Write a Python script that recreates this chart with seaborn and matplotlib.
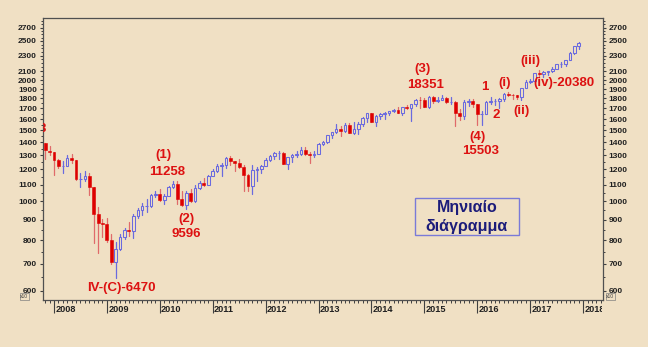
import numpy as np
import pandas as pd
import matplotlib
matplotlib.use("Agg")
import matplotlib.pyplot as plt
import seaborn as sns
from matplotlib.patches import Rectangle
from matplotlib.transforms import Bbox, TransformedBbox
from matplotlib.ticker import FixedLocator, NullFormatter, FixedFormatter

# ---------------- data (monthly OHLC, index points; axis shows x10) ----------------
start_year = 2007
start_month = 11
opens = [13930, 13368,
         13262, 12638, 12262, 12264, 12818, 12638, 11346, 11378, 11544, 10847, 9325, 8830,
         8772, 8000, 7057, 7609, 8168, 8500, 8447, 9172, 9496, 9712, 9713, 10344,
         10430, 10067, 10325, 10857, 11009, 10137, 9774, 10466, 10015, 10788, 11118, 11006,
         11578, 11892, 12226, 12320, 12811, 12570, 12414, 12143, 11614, 10913, 11955, 12046,
         12218, 12633, 12952, 13212, 13214, 12393, 12880, 13009, 13091, 13437, 13096, 13026,
         13104, 13861, 14054, 14579, 14840, 15116, 14910, 15500, 14810, 15130, 15546, 16086,
         16577, 15699, 16322, 16458, 16581, 16717, 16827, 16563, 17098, 17043, 17391, 17828,
         17823, 17165, 18133, 17776, 17841, 18011, 17620, 17690, 16528, 16285, 17664, 17720,
         17425, 16466, 16517, 17685, 17774, 17787, 17930, 18432, 18401, 18308, 18142, 19124,
         19763, 19864, 20812, 20663, 20941, 21009, 21350, 21891, 21948, 22405, 23377, 24272]
highs = [13943, 13727,
         13279, 12767, 12622, 13010, 13136, 12657, 11734, 11868, 11790, 10883, 9654, 9026,
         9088, 8315, 7925, 8300, 8588, 8878, 9282, 9630, 9917, 10120, 10450, 10580,
         10730, 10400, 10930, 11258, 11200, 10600, 10580, 10720, 10948, 11245, 11451, 11625,
         12020, 12391, 12420, 12876, 12950, 12570, 12753, 12300, 11717, 12285, 12188, 12330,
         12840, 13055, 13289, 13338, 13280, 12900, 13100, 13330, 13653, 13661, 13290, 13300,
         13970, 14150, 14585, 14888, 15542, 15340, 15634, 15658, 15709, 15721, 16174, 16588,
         16588, 16398, 16590, 16632, 16735, 16978, 17151, 17153, 17350, 17395, 17895, 18103,
         18000, 18244, 18288, 18175, 18351, 18200, 18137, 17750, 16933, 17800, 17978, 17900,
         17425, 16795, 17790, 18168, 17934, 18016, 18622, 18668, 18495, 18400, 19152, 19988,
         20125, 20851, 21169, 21006, 21112, 21535, 21929, 22179, 22420, 23485, 24327, 24876]
lows = [12724, 13029,
        11634, 12069, 11731, 12266, 12442, 11288, 10827, 11221, 10365, 7882, 7449, 8149,
        7909, 7000, 6470, 7550, 8050, 8222, 8087, 9082, 9253, 9430, 9677, 10235,
        10030, 9835, 10300, 10780, 9870, 9757, 9596, 9936, 9940, 10710, 10930, 11000,
        11550, 11850, 11555, 12090, 12310, 11862, 12090, 10605, 10597, 10404, 11231, 11735,
        12218, 12600, 12740, 12710, 12400, 12035, 12492, 12880, 13000, 13050, 12471, 12880,
        13104, 13785, 13937, 14400, 14740, 14551, 14850, 14760, 14720, 14720, 15350, 15700,
        15698, 15340, 16016, 16015, 16334, 16656, 16563, 16333, 16945, 15855, 17263, 17068,
        17137, 17037, 17585, 17664, 17840, 17576, 17465, 15370, 15942, 16013, 17210, 17138,
        15450, 15503, 16500, 17484, 17331, 17063, 17713, 18247, 17992, 17959, 17884, 19062,
        19678, 19831, 20412, 20380, 20554, 20992, 21279, 21600, 21709, 22400, 23242, 23921]
closes = [13372, 13265,
          12650, 12266, 12263, 12820, 12638, 11350, 11378, 11544, 10851, 9325, 8829, 8776,
          8001, 7063, 7609, 8168, 8500, 8447, 9172, 9496, 9712, 9713, 10344, 10428,
          10067, 10325, 10857, 11009, 10137, 9774, 10466, 10015, 10788, 11118, 11006, 11578,
          11892, 12226, 12320, 12811, 12570, 12414, 12143, 11614, 10913, 11955, 12046, 12218,
          12633, 12952, 13212, 13214, 12393, 12880, 13009, 13091, 13437, 13096, 13026, 13104,
          13861, 14054, 14579, 14840, 15116, 14910, 15500, 14810, 15130, 15546, 16086, 16577,
          15699, 16322, 16458, 16581, 16717, 16827, 16563, 17098, 17043, 17391, 17828, 17823,
          17165, 18133, 17776, 17841, 18011, 17620, 17690, 16528, 16285, 17664, 17720, 17425,
          16466, 16517, 17685, 17774, 17787, 17930, 18432, 18401, 18308, 18142, 19124, 19763,
          19864, 20812, 20663, 20941, 21009, 21350, 21891, 21948, 22405, 23377, 24272, 24719]
SCALE = 10

y_major = [600, 700, 800, 900, 1000, 1100, 1200, 1300, 1400, 1500, 1600, 1700,
           1800, 1900, 2000, 2100, 2300, 2500, 2700]
years = list(range(2008, 2019))

BG = "#F0E0C4"
RED = "#DD0000"
RED_WICK = "#E06A6A"
BLUE = "#6A6ADF"
LABEL_RED = "#DD1111"
NAVY = "#1C1C7A"

sns.set_theme(style="ticks")
plt.rcParams["font.family"] = ["Liberation Sans", "DejaVu Sans"]

n = len(opens)
xs = np.array([start_year + (start_month - 1 + i) / 12.0 for i in range(n)])
o = np.array(opens) / SCALE
h = np.array(highs) / SCALE
l = np.array(lows) / SCALE
c = np.array(closes) / SCALE
up = c >= o

fig = plt.figure(figsize=(6.48, 3.47), dpi=100, facecolor=BG)
ax = fig.add_axes([42.5 / 648, (347 - 299.5) / 347, (602.7 - 42.5) / 648, (299.5 - 18.3) / 347])
ax.set_facecolor(BG)
ax.set_yscale("log")

# wicks through seaborn
wick = pd.DataFrame({
    "x": np.concatenate([xs, xs]),
    "y": np.concatenate([h, l]),
    "unit": np.concatenate([np.arange(n), np.arange(n)]),
    "dir": np.concatenate([np.where(up, "up", "down")] * 2),
})
sns.lineplot(data=wick, x="x", y="y", units="unit", hue="dir", estimator=None,
             palette={"up": BLUE, "down": RED_WICK}, legend=False, lw=0.9, sort=False,
             ax=ax, zorder=2)

# bodies
ax.bar(xs[up], np.maximum(c[up] - o[up], 0.01), bottom=o[up], width=0.048,
       facecolor=BG, edgecolor=BLUE, linewidth=0.75, zorder=3)
ax.bar(xs[~up], o[~up] - c[~up], bottom=c[~up], width=0.055,
       facecolor=RED, edgecolor=RED, linewidth=0.4, zorder=3)

ax.set_xlim(2007.783, 2018.369)
ax.set_ylim(570.6, 2846)
ax.set_xlabel("")
ax.set_ylabel("")

# y ticks
ax.yaxis.set_major_locator(FixedLocator(y_major))
ax.yaxis.set_major_formatter(FixedFormatter([str(v) for v in y_major]))
ax.yaxis.set_minor_locator(FixedLocator([v for v in range(550, 2851, 50) if v not in y_major]))
ax.yaxis.set_minor_formatter(NullFormatter())
ax.tick_params(axis="y", which="both", direction="out", left=True, right=True,
               labelleft=True, labelright=True, colors="#404040", labelcolor="#202020",
               labelsize=6, pad=1.5)
ax.tick_params(axis="y", which="major", length=2.5, width=0.8)
ax.tick_params(axis="y", which="minor", length=1.5, width=0.7)
for t in ax.get_yticklabels():
    t.set_fontweight("bold")

# x ticks
ax.xaxis.set_major_locator(FixedLocator(years))
ax.xaxis.set_major_formatter(NullFormatter())
ax.xaxis.set_minor_locator(FixedLocator([2007 + m / 12 for m in range(0, 12 * 12) if m % 12 != 0]))
ax.tick_params(axis="x", which="major", direction="out", length=9.5, width=0.8, colors="#404040")
ax.tick_params(axis="x", which="minor", direction="out", length=2.2, width=0.7, colors="#404040")
clip_box = TransformedBbox(Bbox([[0, 0], [601.5 / 648, 1]]), fig.transFigure)
for yr in years:
    t = ax.text(yr + 1.3 / 52.9, -0.0373, str(yr), transform=ax.get_xaxis_transform(),
                ha="left", va="center", fontsize=6.6, fontweight="bold", color="#202020")
    t.set_clip_box(clip_box)
    t.set_clip_on(True)

for s in ax.spines.values():
    s.set_color("#505050")
    s.set_linewidth(0.9)

# wave labels
lab = dict(ha="center", va="center", fontsize=9.5, fontweight="bold", color=LABEL_RED)
cut = ax.text(2007.711, 1511, "8", ha="left", va="center", fontsize=9.5,
              fontweight="bold", color=LABEL_RED)
cut.set_clip_path(ax.patch)
cut.set_clip_on(True)
ax.text(2010.066, 1303, "(1)", **lab)
ax.text(2010.130, 1184, "11258", **lab)
ax.text(2010.509, 904, "(2)", **lab)
ax.text(2010.490, 828, "9596", **lab)
ax.text(2009.267, 608, "IV-(C)-6470", **lab)
ax.text(2014.962, 2126, "(3)", **lab)
ax.text(2015.027, 1944, "18351", **lab)
ax.text(2016.147, 1918, "1", **lab)
ax.text(2016.507, 1969, "(i)", **lab)
ax.text(2016.355, 1638, "2", **lab)
ax.text(2016.828, 1680, "(ii)", **lab)
ax.text(2016.009, 1447, "(4)", **lab)
ax.text(2016.066, 1335, "15503", **lab)
ax.text(2017.007, 2233, "(iii)", **lab)
ax.text(2017.635, 1963, "(iv)-20380", **lab)

# title box
fig.patches.append(Rectangle((415 / 648, (347 - 235.3) / 347), 104 / 648, 37.6 / 347,
                             transform=fig.transFigure, facecolor=BG, edgecolor="#7A7AD8",
                             linewidth=1.0, zorder=5))
fig.text(467 / 648, (347 - 207.3) / 347, "Μηνιαίο", ha="center", va="center",
         fontsize=11.5, fontweight="bold", color=NAVY, zorder=6)
fig.text(467 / 648, (347 - 226.7) / 347, "διάγραμμα", ha="center", va="center",
         fontsize=11.5, fontweight="bold", color=NAVY, zorder=6)

# x10 markers
xbox = dict(boxstyle="square,pad=0.15", facecolor=BG, edgecolor="#808080", linewidth=0.5)
fig.text(24.5 / 648, (347 - 296.5) / 347, "x10", ha="center", va="center", fontsize=3.6,
         color="#404040", bbox=xbox)
fig.text(610.5 / 648, (347 - 296.5) / 347, "x10", ha="center", va="center", fontsize=3.6,
         color="#404040", bbox=xbox)

fig.savefig("out.png", dpi=100, facecolor=BG)
